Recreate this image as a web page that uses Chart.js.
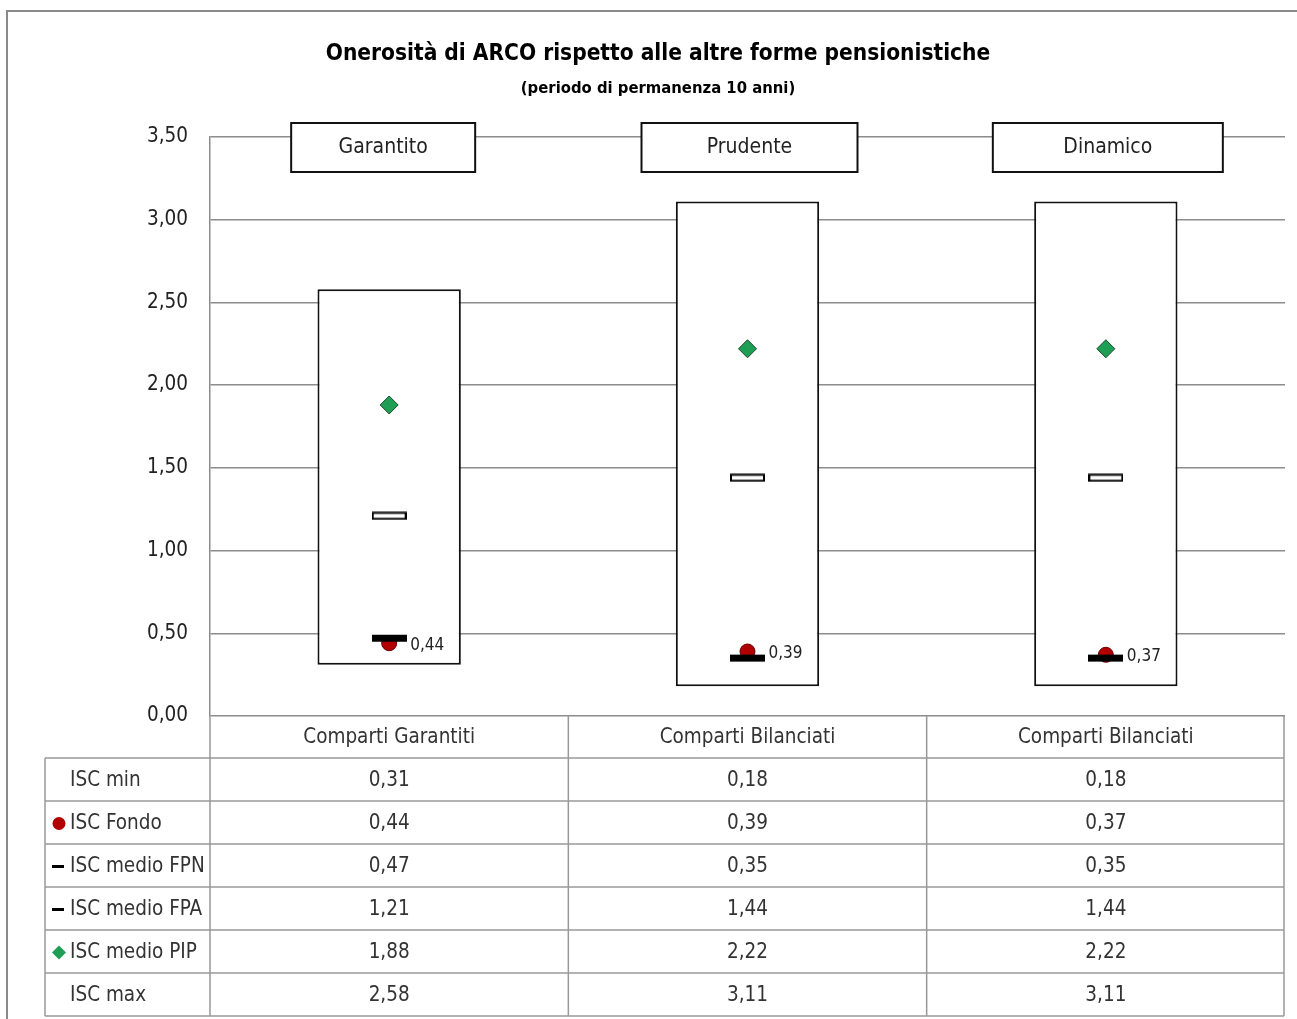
<!DOCTYPE html>
<html>
<head>
<meta charset="utf-8">
<script src="https://cdn.jsdelivr.net/npm/chart.js@4.4.1/dist/chart.umd.min.js"></script>
<style>
  html, body { margin: 0; padding: 0; background: #fff; overflow: hidden; }
  #frame { position: absolute; left: 6px; top: 10px; width: 1320px; height: 1040px; border: 2px solid #8a8a8a; }
  #wrap { position: absolute; left: 0; top: 0; width: 1297px; height: 1019px; }
</style>
</head>
<body>
<div id="frame"></div>
<div id="wrap"><canvas id="chart" width="1297" height="1019"></canvas></div>
<script>
// data
const categories = ["Comparti Garantiti", "Comparti Bilanciati", "Comparti Bilanciati"];
const panelLabels = ["Garantito", "Prudente", "Dinamico"];
const iscMin = [0.31, 0.18, 0.18];
const iscFondo = [0.44, 0.39, 0.37];
const iscFPN = [0.47, 0.35, 0.35];
const iscFPA = [1.21, 1.44, 1.44];
const iscPIP = [1.88, 2.22, 2.22];
const iscMax = [2.58, 3.11, 3.11];
const yTicks = [0, 0.5, 1, 1.5, 2, 2.5, 3, 3.5];

const FONT = "'Liberation Sans Narrow', 'DejaVu Sans Condensed', sans-serif";
const fmt = (v) => v.toFixed(2).replace(".", ",");

// marker images for the two "medio" dashes
function dash(filled) {
  const c = document.createElement("canvas");
  c.width = 35; c.height = 9;
  const g = c.getContext("2d");
  if (filled) {
    g.fillStyle = "#000";
    g.fillRect(0, 1, 35, 7);
  } else {
    g.fillStyle = "#fff";
    g.fillRect(1, 1, 33, 7);
    g.strokeStyle = "#000";
    g.lineWidth = 2;
    g.strokeRect(1, 1.5, 33, 6);
  }
  return c;
}

const rows = [
  { label: "ISC min", values: iscMin, mark: null },
  { label: "ISC Fondo", values: iscFondo, mark: "circle" },
  { label: "ISC medio FPN", values: iscFPN, mark: "dash" },
  { label: "ISC medio FPA", values: iscFPA, mark: "dash" },
  { label: "ISC medio PIP", values: iscPIP, mark: "diamond" },
  { label: "ISC max", values: iscMax, mark: null },
];

// title, panel header boxes, value labels and the data table
const decor = {
  id: "decor",
  afterDraw(chart) {
    const ctx = chart.ctx;
    const xs = chart.scales.x;
    const area = chart.chartArea;
    const colW = xs.width / categories.length;
    ctx.save();

    // title
    ctx.fillStyle = "#000";
    ctx.textAlign = "center";
    ctx.textBaseline = "middle";
    ctx.font = "bold 22.5px " + FONT;
    ctx.fillText("Onerosità di ARCO rispetto alle altre forme pensionistiche", 658, 54);
    ctx.font = "bold 16.5px " + FONT;
    ctx.fillText("(periodo di permanenza 10 anni)", 658, 89);

    // panel header boxes
    const boxW = [184, 216, 230];
    const boxOff = [-6, 2, 2];
    ctx.font = "21px " + FONT;
    panelLabels.forEach((t, i) => {
      const cx = xs.getPixelForValue(i) + boxOff[i];
      const cy = area.top + 10;
      ctx.fillStyle = "#fff";
      ctx.fillRect(cx - boxW[i] / 2, cy - 24, boxW[i], 49);
      ctx.strokeStyle = "#111";
      ctx.lineWidth = 2;
      ctx.strokeRect(cx - boxW[i] / 2, cy - 24, boxW[i], 49);
      ctx.fillStyle = "#222";
      ctx.fillText(t, cx, cy + 1);
    });

    // value labels next to ISC Fondo
    const fm = chart.getDatasetMeta(1);
    ctx.font = "17px " + FONT;
    ctx.textAlign = "left";
    fm.data.forEach((p, i) => {
      ctx.fillStyle = "#222";
      ctx.fillText(fmt(iscFondo[i]), p.x + 21, p.y + 2);
    });

    // data table
    const top = area.bottom;
    const headH = 42;
    const rowH = 43;
    const legL = 45;
    const tBottom = top + headH + rows.length * rowH;
    ctx.strokeStyle = "#999";
    ctx.lineWidth = 1.5;
    ctx.beginPath();
    for (let i = 0; i <= categories.length; i++) {
      const x = xs.left + i * colW - (i === categories.length ? 1 : 0);
      ctx.moveTo(x, top);
      ctx.lineTo(x, tBottom);
    }
    ctx.moveTo(legL, top + headH);
    ctx.lineTo(legL, tBottom);
    for (let r = 0; r <= rows.length; r++) {
      const y = top + headH + r * rowH;
      ctx.moveTo(legL, y);
      ctx.lineTo(xs.right - 1, y);
    }
    ctx.stroke();

    ctx.font = "20.5px " + FONT;
    ctx.fillStyle = "#333";
    ctx.textAlign = "center";
    categories.forEach((c, i) => {
      ctx.fillText(c, xs.getPixelForValue(i), top + headH / 2 + 1);
    });
    rows.forEach((row, r) => {
      const cy = top + headH + r * rowH + rowH / 2 + 1;
      ctx.textAlign = "center";
      ctx.fillStyle = "#333";
      row.values.forEach((v, i) => {
        ctx.fillText(fmt(v), xs.getPixelForValue(i), cy);
      });
      ctx.textAlign = "left";
      ctx.fillText(row.label, 70, cy);
      if (row.mark === "circle") {
        ctx.fillStyle = "#b00000";
        ctx.beginPath();
        ctx.arc(59, cy, 6.5, 0, Math.PI * 2);
        ctx.fill();
      } else if (row.mark === "dash") {
        ctx.fillStyle = "#000";
        ctx.fillRect(52, cy - 1.5, 12, 3);
      } else if (row.mark === "diamond") {
        ctx.fillStyle = "#1f9e55";
        ctx.beginPath();
        ctx.moveTo(59, cy - 7);
        ctx.lineTo(66, cy);
        ctx.lineTo(59, cy + 7);
        ctx.lineTo(52, cy);
        ctx.closePath();
        ctx.fill();
      }
    });
    ctx.restore();
  },
};

const ctx = document.getElementById("chart").getContext("2d");
new Chart(ctx, {
  type: "bar",
  data: {
    labels: categories,
    datasets: [
      {
        type: "bar",
        label: "ISC min-max",
        data: iscMin.map((v, i) => [v, iscMax[i]]),
        backgroundColor: "#fff",
        borderColor: "#111",
        borderWidth: 2,
        borderSkipped: false,
        barPercentage: 0.4,
        categoryPercentage: 1,
        order: 10,
      },
      {
        type: "line",
        label: "ISC Fondo",
        data: iscFondo,
        showLine: false,
        pointStyle: "circle",
        pointRadius: 7.5,
        backgroundColor: "#b00000",
        borderColor: "#6a0000",
        borderWidth: 1,
        order: 3,
      },
      {
        type: "line",
        label: "ISC medio FPN",
        data: iscFPN,
        showLine: false,
        pointStyle: dash(true),
        order: 2,
      },
      {
        type: "line",
        label: "ISC medio FPA",
        data: iscFPA,
        showLine: false,
        pointStyle: dash(false),
        order: 2,
      },
      {
        type: "line",
        label: "ISC medio PIP",
        data: iscPIP,
        showLine: false,
        pointStyle: "rectRot",
        pointRadius: 9,
        backgroundColor: "#1f9e55",
        borderColor: "#1a4d2e",
        borderWidth: 1,
        order: 1,
      },
    ],
  },
  options: {
    responsive: false,
    animation: false,
    layout: { padding: { top: 137, bottom: 303, left: 0, right: 12 } },
    plugins: { legend: { display: false }, tooltip: { enabled: false } },
    scales: {
      x: {
        display: false,
        offset: true,
        grid: { display: false },
      },
      y: {
        min: 0,
        max: 3.5,
        afterFit: (s) => { s.width = 210; },
        afterBuildTicks: (s) => { s.ticks = yTicks.map((v) => ({ value: v })); },
        ticks: {
          padding: 22,
          color: "#222",
          font: { family: FONT, size: 20.5 },
          callback: (v) => fmt(v),
        },
        grid: { color: "#8c8c8c", lineWidth: 1.5, drawTicks: false },
        border: { color: "#8c8c8c", width: 1.5 },
      },
    },
  },
  plugins: [decor],
});
</script>
</body>
</html>
